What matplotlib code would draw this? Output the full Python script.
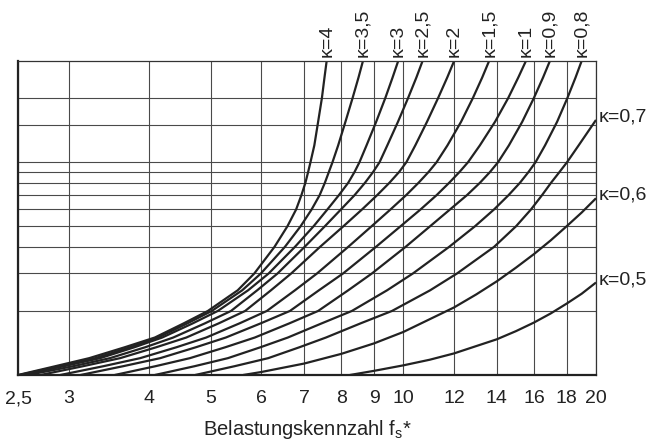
import matplotlib
matplotlib.use("Agg")
import matplotlib.pyplot as plt
from matplotlib.ticker import NullLocator

plt.rcParams['font.family'] = ['Liberation Sans', 'DejaVu Sans']

# x-axis ticks (log scale)
x_ticks = [2.5, 3, 4, 5, 6, 7, 8, 9, 10, 12, 14, 16, 18, 20]
x_tick_labels = ['2,5', '3', '4', '5', '6', '7', '8', '9', '10', '12', '14', '16', '18', '20']
# horizontal grid lines (no labels in the original)
y_grid = [0.2, 0.3, 0.4, 0.5, 0.6, 0.7, 0.8, 0.9, 1.0, 1.5, 2.0]

# curves kappa=4 ... 0.8, x read at fixed y levels
y_levels = [0.1, 0.11, 0.12, 0.135, 0.15, 0.175, 0.2, 0.25, 0.3, 0.4, 0.5,
            0.6, 0.7, 0.8, 0.9, 1.0, 1.2, 1.55, 2.0, 2.5, 3.0]
x_k40 = [2.50, 2.86, 3.23, 3.67, 4.09, 4.54, 4.95, 5.51, 5.85, 6.29, 6.59,
         6.80, 6.93, 7.03, 7.10, 7.16, 7.26, 7.36, 7.46, 7.53, 7.59]
x_k35 = [2.51, 2.91, 3.30, 3.74, 4.14, 4.60, 5.02, 5.60, 5.99, 6.53, 6.91,
         7.19, 7.40, 7.54, 7.65, 7.75, 7.91, 8.12, 8.33, 8.51, 8.65]
x_k30 = [2.54, 2.95, 3.36, 3.80, 4.20, 4.69, 5.13, 5.72, 6.16, 6.77, 7.24,
         7.61, 7.93, 8.20, 8.39, 8.54, 8.76, 9.07, 9.37, 9.62, 9.82]
x_k25 = [2.59, 3.05, 3.48, 3.95, 4.37, 4.90, 5.38, 5.91, 6.36, 7.01, 7.54,
         7.99, 8.39, 8.71, 8.97, 9.18, 9.44, 9.81, 10.17, 10.48, 10.72]
x_k20 = [2.71, 3.16, 3.61, 4.11, 4.58, 5.15, 5.66, 6.21, 6.68, 7.41, 8.06,
         8.62, 9.10, 9.51, 9.85, 10.11, 10.44, 10.89, 11.33, 11.71, 12.01]
x_k15 = [2.91, 3.40, 3.88, 4.42, 4.92, 5.55, 6.12, 6.77, 7.33, 8.20, 8.92,
         9.55, 10.10, 10.56, 10.95, 11.27, 11.72, 12.31, 12.84, 13.28, 13.62]
x_k10 = [3.13, 3.65, 4.17, 4.74, 5.28, 5.99, 6.65, 7.38, 8.05, 9.06, 9.90,
         10.64, 11.27, 11.79, 12.24, 12.62, 13.17, 13.91, 14.58, 15.12, 15.55]
x_k09 = [3.54, 4.10, 4.64, 5.27, 5.86, 6.64, 7.36, 8.20, 8.93, 10.08, 11.01,
         11.83, 12.57, 13.17, 13.66, 14.06, 14.62, 15.34, 15.99, 16.53, 16.95]
x_k08 = [4.09, 4.72, 5.32, 5.98, 6.60, 7.46, 8.31, 9.43, 10.35, 11.79, 12.94,
         13.86, 14.60, 15.21, 15.69, 16.09, 16.65, 17.39, 18.04, 18.58, 19.00]

# lower curves ending on the right edge
x_k07 = [4.73, 5.45, 6.15, 6.88, 7.57, 8.58, 9.60, 11.01, 12.13, 13.86, 15.00,
         15.83, 16.47, 17.01, 17.54, 18.02, 18.79, 20.0]
y_k07 = [0.1, 0.11, 0.12, 0.135, 0.15, 0.175, 0.2, 0.25, 0.3, 0.4, 0.5,
         0.6, 0.7, 0.8, 0.9, 1.0, 1.2, 1.58]
x_k06 = [5.62, 6, 7, 8, 9, 10, 12, 13, 14, 15, 16, 17, 18, 19, 20]
y_k06 = [0.1, 0.1033, 0.1132, 0.1257, 0.1408, 0.1593, 0.2077, 0.2392, 0.2757,
         0.3197, 0.3701, 0.4297, 0.5005, 0.5805, 0.677]
x_k05 = [8.25, 9, 10, 11, 12, 14, 15, 16, 17, 18, 19, 20]
y_k05 = [0.1, 0.1046, 0.111, 0.118, 0.1263, 0.1472, 0.1608, 0.1764, 0.1948,
         0.2166, 0.2411, 0.272]

top_curves = [
    ('κ=4', x_k40), ('κ=3,5', x_k35), ('κ=3', x_k30), ('κ=2,5', x_k25),
    ('κ=2', x_k20), ('κ=1,5', x_k15), ('κ=1', x_k10), ('κ=0,9', x_k09),
    ('κ=0,8', x_k08),
]
side_curves = [('κ=0,7', x_k07, y_k07), ('κ=0,6', x_k06, y_k06), ('κ=0,5', x_k05, y_k05)]

fig = plt.figure(figsize=(6.46, 4.43), dpi=100)
ax = fig.add_axes([18/646, 68/443, 578/646, 314.3/443])
ax.set_xscale('log')
ax.set_yscale('log')
ax.set_xlim(2.5, 20)
ax.set_ylim(0.1, 3)

ax.set_xticks(x_ticks)
ax.set_xticklabels(x_tick_labels)
ax.xaxis.set_minor_locator(NullLocator())
ax.set_yticks(y_grid)
ax.set_yticklabels([])
ax.yaxis.set_minor_locator(NullLocator())
ax.tick_params(length=0, labelsize=14, colors='#222222', pad=11)
ax.grid(True, color='#4a4a4a', linewidth=0.8)
ax.set_axisbelow(True)

for side in ['left', 'bottom']:
    ax.spines[side].set_linewidth(1.6)
    ax.spines[side].set_color('#222222')
for side in ['top', 'right']:
    ax.spines[side].set_linewidth(0.9)
    ax.spines[side].set_color('#333333')

curve_color = '#222222'
for label, xs in top_curves:
    ax.plot(xs, y_levels, color=curve_color, linewidth=1.6, solid_capstyle='butt')
    ax.annotate(label, xy=(xs[-1], y_levels[-1]), xytext=(0, 3), textcoords='offset points',
                rotation=90, ha='center', va='bottom', fontsize=14, color='#222222',
                annotation_clip=False)

for label, xs, ys in side_curves:
    ax.plot(xs, ys, color=curve_color, linewidth=1.6, solid_capstyle='butt')
    ax.annotate(label, xy=(xs[-1], ys[-1]), xytext=(2, 2), textcoords='offset points',
                ha='left', va='center', fontsize=14, color='#222222',
                annotation_clip=False)

ax.set_xlabel('Belastungskennzahl f$_\\mathregular{s}$*', fontsize=14.5, color='#222222', labelpad=8)

fig.savefig('out.png', dpi=100)
